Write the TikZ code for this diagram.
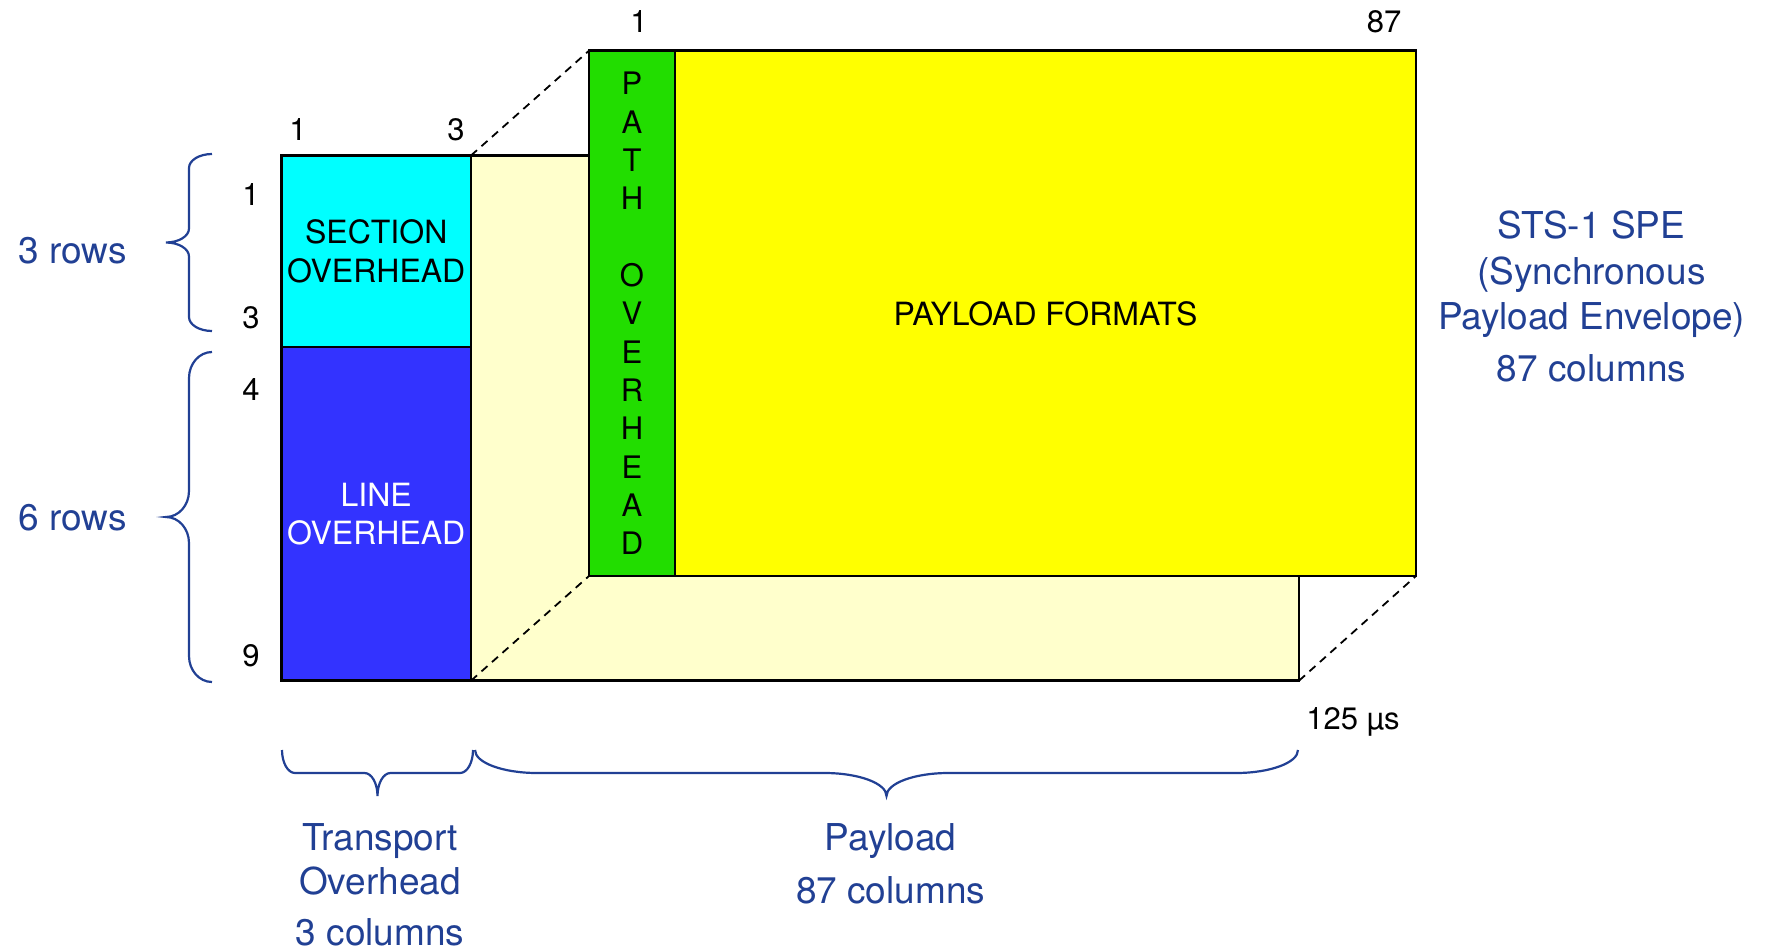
\documentclass[tikz,border=0pt]{standalone}
\usepackage{fontspec}
\setmainfont{TeX Gyre Heros}

\definecolor{noteblue}{RGB}{33,64,148}
\definecolor{sohcyan}{RGB}{0,255,255}
\definecolor{lohblue}{RGB}{51,51,255}
\definecolor{pohgreen}{RGB}{34,221,0}
\definecolor{pfyellow}{RGB}{255,255,0}
\definecolor{envcream}{RGB}{255,255,204}

% vertical curly brace opening to the right: x of ends, top y, bottom y, curl length
\newcommand\sidebrace[4]{%
  \draw[bracestyle] (#1,#2) .. controls ({#1-12.7},#2) and ({#1-23},{#2+0.448*#4}) .. ({#1-23},{#2+#4})
    -- ({#1-23},{(#2+#3)/2-#4})
    .. controls ({#1-23},{(#2+#3)/2-0.448*#4}) and ({#1-33.3},{(#2+#3)/2}) .. ({#1-46},{(#2+#3)/2})
    .. controls ({#1-33.3},{(#2+#3)/2}) and ({#1-23},{(#2+#3)/2+0.448*#4}) .. ({#1-23},{(#2+#3)/2+#4})
    -- ({#1-23},{#3-#4})
    .. controls ({#1-23},{#3-0.448*#4}) and ({#1-12.7},#3) .. (#1,#3);}

% horizontal curly brace opening upwards: left x, right x, y of ends, curl length
\newcommand\lowbrace[4]{%
  \draw[bracestyle] (#1,#3) .. controls (#1,{#3+12.7}) and ({#1+0.448*#4},{#3+23}) .. ({#1+#4},{#3+23})
    -- ({(#1+#2)/2-#4},{#3+23})
    .. controls ({(#1+#2)/2-0.448*#4},{#3+23}) and ({(#1+#2)/2},{#3+33.3}) .. ({(#1+#2)/2},{#3+46})
    .. controls ({(#1+#2)/2},{#3+33.3}) and ({(#1+#2)/2+0.448*#4},{#3+23}) .. ({(#1+#2)/2+#4},{#3+23})
    -- ({#2-#4},{#3+23})
    .. controls ({#2-0.448*#4},{#3+23}) and (#2,{#3+12.7}) .. (#2,#3);}

\begin{document}
\begin{tikzpicture}[x=1pt,y=-1pt,
  cell/.style={draw=black, line width=2.5pt, inner sep=0pt, outer sep=0pt,
    anchor=north west, align=center, font=\fontsize{32}{38.3}\selectfont},
  guide/.style={draw=black, line width=1.8pt, dash pattern=on 8pt off 6pt},
  num/.style={anchor=base, inner sep=0pt, font=\fontsize{31}{37}\selectfont},
  note/.style={anchor=base, inner sep=0pt, text=noteblue, font=\fontsize{37}{45}\selectfont},
  bracestyle/.style={draw=noteblue, line width=2.2pt}]

\useasboundingbox[fill=white] (0,0) rectangle (1767,952);

% the payload block seen from behind
\node[cell, fill=envcream, minimum width=828pt, minimum height=525.2pt] (pay) at (471,155.5) {};

% transport overhead
\node[cell, fill=sohcyan, minimum width=189.5pt, minimum height=191.5pt] (soh) at (281.5,155.5) {SECTION\\OVERHEAD};
\node[cell, fill=lohblue, text=white, minimum width=189.5pt, minimum height=333.7pt] (loh) at (281.5,347) {LINE\\OVERHEAD};

% synchronous payload envelope
\node[cell, fill=pohgreen, minimum width=86pt, minimum height=525.3pt] (poh) at (589,50.7) {};
\node[cell, fill=pfyellow, minimum width=741pt, minimum height=525.3pt] (pf) at (675,50.7) {PAYLOAD FORMATS};

\foreach \ch [count=\i] in {P,A,T,H,{},O,V,E,R,H,E,A,D}
  \node[num] (pathch\i) at (632,{95+(\i-1)*38.33}) {\ch};

% depth guides
\draw[guide] (soh.north east) -- (poh.north west);
\draw[guide] (loh.south east) -- (poh.south west);
\draw[guide] (pay.south east) -- (pf.south east);

% column and row numbers
\node[num] (c1) at (298,141) {1};
\node[num] (c3) at (456,141) {3};
\node[num] (p1) at (639,33) {1};
\node[num] (p87) at (1384,33) {87};
\node[num] (r1) at (251,206) {1};
\node[num] (r3) at (251,328.3) {3};
\node[num] (r4) at (251,400) {4};
\node[num] (r9) at (251,666) {9};
\node[num] (period) at (1353,729) {125 µs};

% braces
\sidebrace{212}{154}{331}{14}
\sidebrace{212}{352}{682}{26}
\lowbrace{282}{473}{750}{13}
\lowbrace{475}{1298}{750}{62}

% annotations
\node[note] (rows3) at (72.7,263) {3 rows};
\node[note] (rows6) at (72.7,530) {6 rows};
\node[note] (to1) at (380,850) {Transport};
\node[note] (to2) at (380,894) {Overhead};
\node[note] (to3) at (380,945) {3 columns};
\node[note] (pl1) at (890.6,850.7) {Payload};
\node[note] (pl2) at (890.6,903.3) {87 columns};
\node[note] (spe1) at (1591.5,239) {STS-1 SPE};
\node[note] (spe2) at (1591.5,284.3) {(Synchronous};
\node[note] (spe3) at (1591.5,329.3) {Payload Envelope)};
\node[note] (spe4) at (1591.5,381.7) {87 columns};
\end{tikzpicture}
\end{document}
